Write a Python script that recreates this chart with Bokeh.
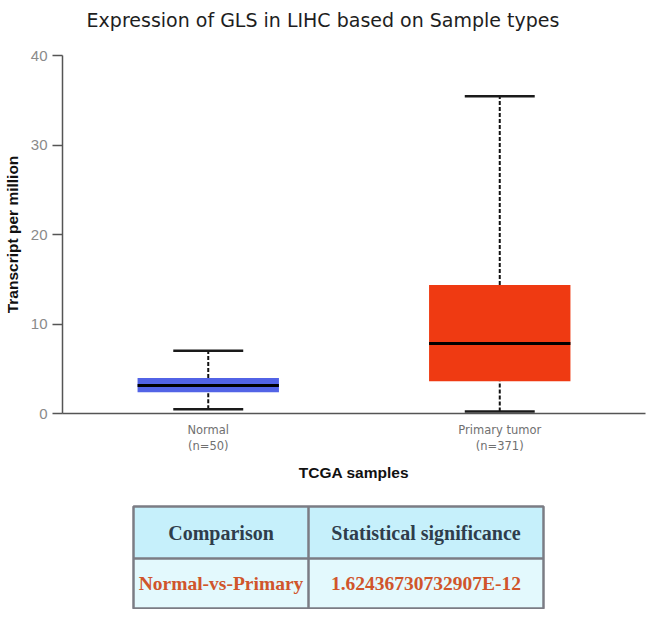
from bokeh.plotting import figure
from bokeh.models import Range1d, FixedTicker
from bokeh.layouts import column
from bokeh.embed import file_html
from bokeh.resources import INLINE
from bokeh.core.properties import value

# ---- data ----
categories = ["Normal", "Primary tumor"]
sample_counts = [50, 371]
positions = [1, 2]
lower_whisker = [0.48, 0.22]
q1 = [2.37, 3.60]
median = [3.12, 7.83]
q3 = [3.98, 14.37]
upper_whisker = [7.02, 35.45]
box_colors = ["#5263e6", "#ef3a12"]
y_ticks = [0, 10, 20, 30, 40]
title_text = "Expression of GLS in LIHC based on Sample types"
x_label = "TCGA samples"
y_label = "Transcript per million"
table_header = ["Comparison", "Statistical significance"]
table_row = ["Normal-vs-Primary", "1.62436730732907E-12"]

BOX_W = 0.485
CAP_W = 0.24


def blank(height, y0, y1):
    f = figure(width=650, height=height, x_range=Range1d(62, 645), y_range=Range1d(y1, y0),
               output_backend="svg", toolbar_location=None,
               min_border_left=62, min_border_right=5, min_border_top=0, min_border_bottom=0,
               x_axis_type=None, y_axis_type=None)
    f.grid.visible = False
    f.outline_line_color = None
    return f


# ---- title strip (page y 0..40) ----
h = blank(40, 0, 40)
h.text(x=[322.5], y=[19], text=[title_text], text_align="center", text_baseline="alphabetic",
       text_font=value("DejaVu Sans"), text_font_size="19px", text_color="#1e1e1e")

# ---- main plot (page y 40..498) ----
p = figure(width=650, height=458, x_range=Range1d(0.5, 2.5), y_range=Range1d(0, 40),
           output_backend="svg", toolbar_location=None,
           min_border_left=62, min_border_right=5, min_border_top=15, min_border_bottom=85)
p.grid.visible = False
p.outline_line_color = None
p.background_fill_color = "white"

# x axis
xa = p.xaxis[0]
xa.ticker = FixedTicker(ticks=positions)
xa.major_label_overrides = {pos: f"{c}\n(n={n})" for pos, c, n in zip(positions, categories, sample_counts)}
xa.major_tick_line_color = None
xa.minor_tick_line_color = None
xa.axis_line_color = "#555555"
xa.axis_line_width = 1.5
xa.major_label_standoff = 3
xa.major_label_text_font = "DejaVu Sans"
xa.major_label_text_font_size = "11.5px"
xa.major_label_text_color = "#707070"
xa.axis_label = x_label
xa.axis_label_text_font = "Liberation Sans"
xa.axis_label_text_font_style = "bold"
xa.axis_label_text_font_size = "15.5px"
xa.axis_label_text_color = "#111111"
xa.axis_label_standoff = 8

# y axis
ya = p.yaxis[0]
ya.ticker = FixedTicker(ticks=y_ticks)
ya.major_tick_out = 10
ya.major_tick_in = 0
ya.minor_tick_line_color = None
ya.major_tick_line_color = "#555555"
ya.major_tick_line_width = 1.5
ya.axis_line_color = "#555555"
ya.axis_line_width = 1.5
ya.major_label_text_font = "Liberation Sans"
ya.major_label_text_font_size = "15px"
ya.major_label_text_color = "#8a8a8a"
ya.major_label_standoff = 5
ya.axis_label = y_label
ya.axis_label_text_font = "Liberation Sans"
ya.axis_label_text_font_style = "bold"
ya.axis_label_text_font_size = "15.5px"
ya.axis_label_text_color = "#111111"
ya.axis_label_standoff = 7

# whisker stems
p.segment(x0=positions, y0=q3, x1=positions, y1=upper_whisker,
          line_color="#111111", line_width=2, line_dash="4 2")
p.segment(x0=positions, y0=lower_whisker, x1=positions, y1=q1,
          line_color="#111111", line_width=2, line_dash="4 2")
# caps
p.segment(x0=[x - CAP_W / 2 for x in positions], y0=upper_whisker,
          x1=[x + CAP_W / 2 for x in positions], y1=upper_whisker,
          line_color="#1a1a1a", line_width=2.5)
p.segment(x0=[x - CAP_W / 2 for x in positions], y0=lower_whisker,
          x1=[x + CAP_W / 2 for x in positions], y1=lower_whisker,
          line_color="#1a1a1a", line_width=2.5)
# boxes
p.vbar(x=positions, top=q3, bottom=q1, width=BOX_W, fill_color=box_colors, line_color=None)
# medians
p.segment(x0=[x - BOX_W / 2 for x in positions], y0=median,
          x1=[x + BOX_W / 2 for x in positions], y1=median,
          line_color="black", line_width=3)

# ---- table (page y 498..609) ----
t = blank(111, 498, 609)
TL, TR, TT, TM, TB, TC = 133, 543, 506, 558, 608, 308
t.quad(left=TL, right=TR, top=TT, bottom=TM, fill_color="#c6f0fb", line_color=None)
t.quad(left=TL, right=TR, top=TM, bottom=TB, fill_color="#e3f9fd", line_color=None)
t.quad(left=TL, right=TR, top=TT, bottom=TB, fill_color=None, line_color="#7b7c84", line_width=2.5)
t.segment(x0=[TL, TC], y0=[TM, TT], x1=[TR, TC], y1=[TM, TB], line_color="#7b7c84", line_width=2.5)

col_centers = [(TL + TC) / 2, (TC + TR) / 2]
t.text(x=col_centers, y=[(TT + TM) / 2] * 2, text=table_header, text_align="center",
       text_baseline="middle", text_font=value("Liberation Serif"), text_font_style="bold",
       text_font_size="20px", text_color="#2f3d4c")
t.text(x=col_centers, y=[(TM + TB) / 2] * 2, text=table_row, text_align="center",
       text_baseline="middle", text_font=value("Liberation Serif"), text_font_style="bold",
       text_font_size="19.5px", text_color="#d0552b")

layout = column(h, p, t)
open("out.html", "w").write(file_html(layout, INLINE))
